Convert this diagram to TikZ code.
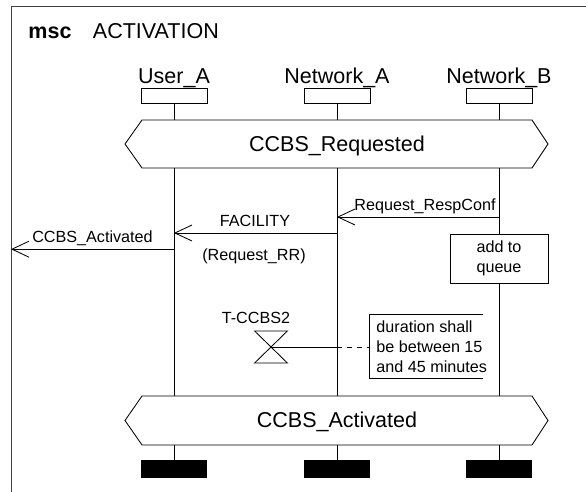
\documentclass[tikz,border=0pt]{standalone}
\usepackage{fontspec}
\setmainfont{Liberation Sans}
\usepackage{tikz}
\usetikzlibrary{positioning,arrows.meta}

\newcommand{\bigtext}{\fontsize{15.3}{18}\selectfont}
\newcommand{\smalltext}{\fontsize{11.5}{14.2}\selectfont}

\begin{document}
\begin{tikzpicture}[
    line width=0.6pt,
    head/.style={draw, fill=white, minimum width=1.65cm, minimum height=0.375cm, inner sep=0pt},
    stopbar/.style={fill=black, minimum width=1.65cm, minimum height=0.45cm, inner sep=0pt},
    iname/.style={font=\bigtext, inner sep=0pt, anchor=base},
    lbl/.style={font=\smalltext, inner sep=0pt, anchor=base},
    msg/.style={-{Straight Barb[length=0.425cm, width=0.4cm]}},
    cond/.style={draw, fill=white},
    action/.style={draw, fill=white, font=\smalltext, align=center, minimum width=2.45cm, minimum height=1.225cm}
]
    \useasboundingbox (0,0) rectangle (14.65,12.3);

    % Frame and title
    \draw[black!75] (0.275,0) |- (14.65,12.15);
    \node[font=\bigtext, inner sep=0pt, anchor=base west] (title) at (0.7,11.325) {\textbf{msc}\quad ACTIVATION};

    % Instances
    \node[head] (uA) at (4.35,9.9125) {};
    \node[head] (nA) at (8.425,9.9125) {};
    \node[head] (nB) at (12.475,9.9125) {};
    \node[above=0.11cm of uA, iname] (uAname) {User\_A};
    \node[above=0.11cm of nA, iname] (nAname) {Network\_A};
    \node[above=0.11cm of nB, iname] (nBname) {Network\_B};

    \node[stopbar] (uAend) at (4.35,0.575) {};
    \node[stopbar] (nAend) at (8.425,0.575) {};
    \node[stopbar] (nBend) at (12.475,0.575) {};

    % Lifelines
    \draw (uA) -- (uAend);
    \draw (nA) -- (nAend);
    \draw (nB) -- (nBend);

    % Conditions
    \draw[cond] (3.125,8.7) -- (3.55,9.3) -- (13.3,9.3) -- (13.7,8.7) -- (13.3,8.1) -- (3.55,8.1) -- cycle;
    \node[iname] (reqcond) at (8.425,8.5075) {CCBS\_Requested};
    \draw[cond] (3.125,1.7875) -- (3.55,2.4) -- (13.3,2.4) -- (13.7,1.7875) -- (13.3,1.175) -- (3.55,1.175) -- cycle;
    \node[iname] (actcond) at (8.425,1.6) {CCBS\_Activated};

    % Messages
    \coordinate (rcB) at (12.475,6.875);
    \coordinate (rcA) at (8.425,6.875);
    \draw[msg] (rcB) -- (rcA);
    \node[lbl, anchor=base east] (rcL) at (12.4,7.03) {Request\_RespConf};

    \coordinate (facA) at (8.425,6.475);
    \coordinate (facU) at (4.35,6.475);
    \draw[msg] (facA) -- (facU);
    \node[lbl] (facL) at (6.375,6.63) {FACILITY};
    \node[lbl] (rrL) at (6.35,5.775) {(Request\_RR)};

    \coordinate (outU) at (4.35,6.07);
    \coordinate (outF) at (0.275,6.07);
    \draw[msg] (outU) -- (outF);
    \node[lbl] (outL) at (2.3125,6.225) {CCBS\_Activated};

    % Action
    \node[action] (queue) at (12.475,5.8375) {add to\\queue};

    % Timer and comment
    \coordinate (tmr) at (6.775,3.625);
    \draw (6.365,4.025) -- (7.185,4.025) -- (6.365,3.225) -- (7.185,3.225) -- cycle;
    \node[lbl] (tmrL) at (6.4,4.2) {T-CCBS2};

    \coordinate (tA) at (8.425,3.625);
    \coordinate (cmtL) at (9.225,3.625);
    \draw (tmr) -- (tA);
    \draw[dash pattern=on 3.5pt off 3.5pt] (tA) -- (cmtL);
    \draw (12.075,4.45) -| (9.225,2.85) -- (12.075,2.85);
    \node[font=\smalltext, inner sep=0pt, align=left, anchor=west] (cmt) at (9.4,3.625) {duration shall\\be between 15\\and 45 minutes};
\end{tikzpicture}
\end{document}
